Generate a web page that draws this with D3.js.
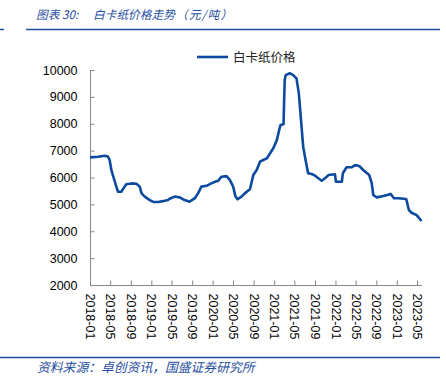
<!DOCTYPE html>
<html><head><meta charset="utf-8">
<script src="https://cdn.jsdelivr.net/npm/d3@7"></script>
<style>
html,body{margin:0;padding:0;background:#fff;}
svg{display:block;}
</style></head>
<body>
<svg id="chart" width="446" height="390"></svg>
<script>
const titleParts = ["图表 30:", "白卡纸价格走势", "（元/吨）"];
const sourceText = "资料来源：卓创资讯，国盛证券研究所";
const seriesName = "白卡纸价格";
const dates = ["2018-01-01","2018-02-19","2018-03-29","2018-04-18","2018-04-28","2018-05-08","2018-05-17","2018-06-01","2018-06-16","2018-07-06","2018-07-26","2018-08-05","2018-09-05","2018-10-04","2018-10-24","2018-11-04","2018-11-23","2018-12-23","2019-01-12","2019-02-11","2019-03-11","2019-04-10","2019-04-20","2019-05-20","2019-06-19","2019-07-18","2019-08-17","2019-09-17","2019-10-06","2019-10-26","2019-11-25","2019-12-25","2020-01-14","2020-02-03","2020-02-23","2020-03-23","2020-04-12","2020-05-02","2020-05-16","2020-05-28","2020-06-21","2020-07-10","2020-08-10","2020-08-30","2020-09-19","2020-10-09","2020-10-28","2020-11-18","2020-12-08","2020-12-27","2021-01-17","2021-01-31","2021-02-08","2021-02-26","2021-03-01","2021-03-05","2021-03-11","2021-04-04","2021-04-24","2021-05-14","2021-05-28","2021-06-13","2021-06-23","2021-07-07","2021-07-22","2021-08-12","2021-08-27","2021-09-21","2021-10-11","2021-10-31","2021-11-20","2021-12-29","2022-01-04","2022-02-08","2022-02-14","2022-03-08","2022-04-07","2022-04-27","2022-05-22","2022-06-15","2022-07-21","2022-08-05","2022-08-14","2022-09-04","2022-10-13","2022-11-05","2022-11-25","2022-12-15","2023-01-11","2023-02-26","2023-03-14","2023-03-30","2023-04-29","2023-05-28"];
const prices = [6750,6770,6810,6780,6650,6280,6090,5780,5470,5470,5660,5750,5780,5770,5660,5410,5290,5160,5090,5090,5120,5160,5210,5290,5260,5160,5100,5230,5410,5660,5690,5780,5840,5880,6030,6050,5910,5660,5290,5190,5290,5410,5560,6090,6280,6590,6650,6710,6900,7090,7390,7770,7950,7980,8760,9630,9810,9880,9810,9690,9130,7890,7140,6650,6160,6130,6090,5970,5880,5970,6090,6120,5840,5840,6160,6380,6380,6460,6430,6280,6090,5780,5350,5260,5310,5350,5390,5230,5230,5200,4790,4690,4600,4380];
const yTicks = [2000,3000,4000,5000,6000,7000,8000,9000,10000];
const xTickLabels = ["2018-01","2018-05","2018-09","2019-01","2019-05","2019-09","2020-01","2020-05","2020-09","2021-01","2021-05","2021-09","2022-01","2022-05","2022-09","2023-01","2023-05"];

const parse = d3.timeParse("%Y-%m-%d");
const parseM = d3.timeParse("%Y-%m");
const data = dates.map((d,i)=>({date:parse(d), value:prices[i]}));

const svg = d3.select("#chart");
const blue = "#1f4e9e";
const lineBlue = "#0b4a9e";
const cjk = "'Noto Sans CJK SC', 'Noto Sans', sans-serif";
const latin = "'Liberation Sans', Arial, sans-serif";

// title
const t = svg.append("text").attr("y",18.5)
  .attr("font-family",cjk).attr("font-size",11.7).attr("font-style","italic").attr("fill",blue);
t.append("tspan").attr("x",36).text(titleParts[0]);
t.append("tspan").attr("x",93).text(titleParts[1]);
t.append("tspan").attr("x",176).attr("letter-spacing",1.2).text(titleParts[2]);
svg.append("line").attr("x1",0).attr("x2",4).attr("y1",29.5).attr("y2",29.5).attr("stroke",blue).attr("stroke-width",1.5);
svg.append("line").attr("x1",26).attr("x2",440).attr("y1",29.5).attr("y2",29.5).attr("stroke",blue).attr("stroke-width",1.5);

// footer
svg.append("line").attr("x1",0).attr("x2",440).attr("y1",357.5).attr("y2",357.5).attr("stroke",blue).attr("stroke-width",1.5);
svg.append("text").attr("x",37).attr("y",372)
  .attr("font-family",cjk).attr("font-size",12.8).attr("font-style","italic")
  .attr("fill",blue).text(sourceText);

const x = d3.scaleTime().domain([parse("2018-01-01"), parse("2023-05-31")]).range([90,422]);
const y = d3.scaleLinear().domain([2000,10000]).range([285,70]);

// y axis
const yAxis = d3.axisLeft(y).tickValues(yTicks).tickSize(-4).tickPadding(13).tickFormat(d3.format("d"));
const gy = svg.append("g").attr("transform","translate(90.5,0)").call(yAxis);
gy.select(".domain").attr("stroke","#888").attr("d","M0,70V285");
gy.selectAll(".tick line").attr("stroke","#888");
gy.selectAll(".tick text").attr("font-family",latin).attr("font-size",12.5).attr("fill","#000");

// x axis
const xAxis = d3.axisBottom(x).tickValues(xTickLabels.map(parseM)).tickSize(-5).tickFormat(d3.timeFormat("%Y-%m"));
const gx = svg.append("g").attr("transform","translate(0,285.5)").call(xAxis);
gx.select(".domain").attr("stroke","#888").attr("d","M90,0H422");
gx.selectAll(".tick line").attr("stroke","#888");
gx.selectAll(".tick text").attr("font-family",latin).attr("font-size",12.5).attr("fill","#000")
  .attr("transform","rotate(90)").attr("text-anchor","start").attr("dy","0.35em").attr("x",8).attr("y",0);

// line
const line = d3.line().x(d=>x(d.date)).y(d=>y(d.value));
svg.append("path").datum(data).attr("d",line).attr("fill","none")
  .attr("stroke",lineBlue).attr("stroke-width",2.6).attr("stroke-linejoin","round");

// legend
svg.append("line").attr("x1",197).attr("x2",228).attr("y1",57).attr("y2",57).attr("stroke",lineBlue).attr("stroke-width",2.6);
svg.append("text").attr("x",233).attr("y",61.5).attr("font-family",cjk).attr("font-size",12.5).attr("fill","#222").text(seriesName);
</script>
</body></html>
